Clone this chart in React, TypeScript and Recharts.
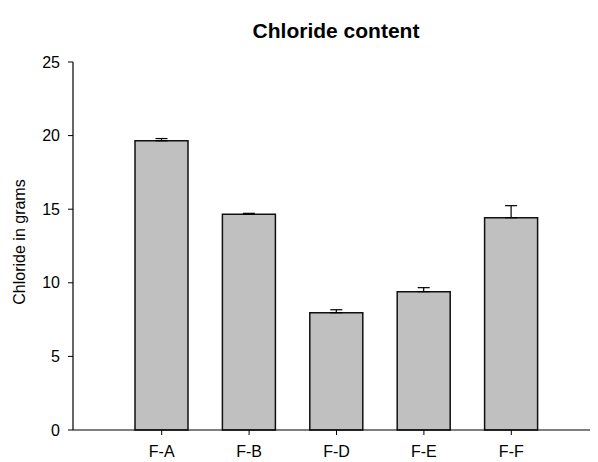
import { BarChart, Bar, XAxis, YAxis, ErrorBar, Label } from 'recharts';

const categories = ['F-A', 'F-B', 'F-D', 'F-E', 'F-F'];
const chloride = [19.65, 14.65, 7.97, 9.4, 14.42];
const chlorideErr = [0.15, 0.07, 0.2, 0.27, 0.82];
const yTicks = [0, 5, 10, 15, 20, 25];

const data = categories.map((name, i) => ({
  name,
  value: chloride[i],
  err: [0, chlorideErr[i]],
}));

const font = '"Liberation Sans", Arial, sans-serif';

export default function App() {
  return (
    <div style={{ position: 'absolute', left: 0, top: 0, width: 598, height: 462, background: '#fff', fontFamily: font }}>
      {/* title */}
      <div
        style={{
          position: 'absolute',
          left: 0,
          width: 672,
          top: 19,
          textAlign: 'center',
          fontSize: 21,
          fontWeight: 'bold',
          lineHeight: '24px',
          color: '#000',
        }}
      >
        Chloride content
      </div>
      <BarChart
        width={598}
        height={462}
        data={data}
        margin={{ top: 62, right: 8, bottom: 2, left: 0 }}
        barSize={53}
        style={{ position: 'absolute', left: 0, top: 0 }}
      >
        <XAxis
          dataKey="name"
          padding={{ left: 45, right: 35 }}
          height={30}
          tickSize={5}
          tickMargin={11}
          tick={{ fill: '#000', fontSize: 16, fontFamily: font }}
          axisLine={{ stroke: '#000', strokeWidth: 1.2 }}
          tickLine={{ stroke: '#000' }}
        />
        <YAxis
          domain={[0, 25]}
          ticks={yTicks}
          width={73}
          tickSize={5}
          tickMargin={8}
          tick={{ fill: '#000', fontSize: 16, fontFamily: font }}
          axisLine={{ stroke: '#000', strokeWidth: 1.2 }}
          tickLine={{ stroke: '#000' }}
        >
          <Label
            content={() => (
              <text
                x={19}
                y={242}
                transform="rotate(-90 19 242)"
                textAnchor="middle"
                dominantBaseline="central"
                fontSize={16}
                fontFamily={font}
                fill="#000"
              >
                Chloride in grams
              </text>
            )}
          />
        </YAxis>
        <Bar dataKey="value" fill="#c0c0c0" stroke="#111" strokeWidth={1.5} isAnimationActive={false}>
          <ErrorBar dataKey="err" direction="y" width={6} stroke="#000" strokeWidth={1.2} />
        </Bar>
      </BarChart>
    </div>
  );
}
